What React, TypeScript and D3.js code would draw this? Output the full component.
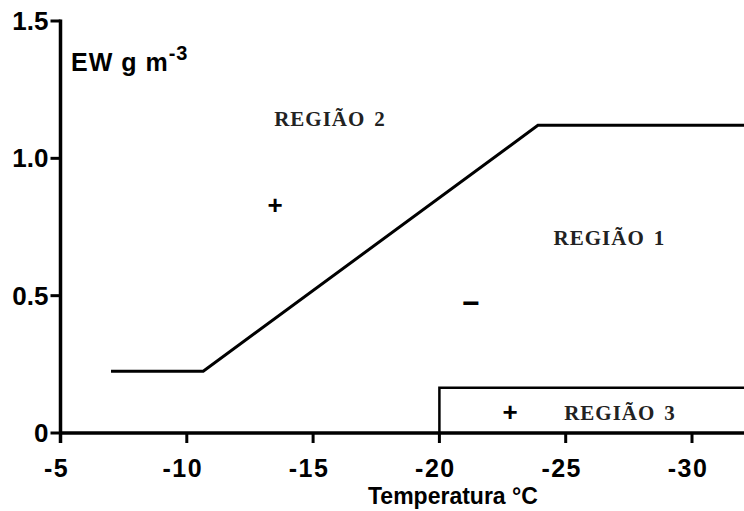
import * as d3 from 'd3';

const W = 744;
const H = 511;

// Boundary between região 1 and região 2 (temperature °C, EW g m-3)
const boundaryTemp = [-7, -10.65, -23.9, -32.1];
const boundaryEW = [0.225, 0.225, 1.12, 1.12];

// Região 3 box outline
const region3Temp = [-20, -20, -32.1];
const region3EW = [0, 0.165, 0.165];

const xTicks = [-5, -10, -15, -20, -25, -30];
const yTicks = [0, 0.5, 1.0, 1.5];
const yTickLabels = ['0', '0.5', '1.0', '1.5'];

const regionLabels = [
  { name: 'REGIÃO', num: '2', t: -15.67, v: 1.118 },
  { name: 'REGIÃO', num: '1', t: -26.73, v: 0.684 },
  { name: 'REGIÃO', num: '3', t: -27.15, v: 0.047 },
];
const signs = [
  { s: '+', t: -13.5, v: 0.83 },
  { s: '+', t: -22.8, v: 0.075 },
  { s: '−', t: -21.25, v: 0.47 },
];

const App = () => {
  const x = d3.scaleLinear().domain([-5, -32.1]).range([60.5, 60.5 + 27.1 * 25.26]);
  const y = d3.scaleLinear().domain([0, 1.5]).range([433, 21]);

  const pts = (ts: number[], vs: number[]) => ts.map((t, i) => [t, vs[i]] as [number, number]);
  const line = d3.line<[number, number]>().x(d => x(d[0])).y(d => y(d[1]));

  const sans = "'Liberation Sans', Arial, sans-serif";
  const serif = "'Liberation Serif', 'Times New Roman', serif";

  return (
    <svg width={W} height={H} style={{ position: 'absolute', left: 0, top: 0, background: '#fff' }}>
      {/* boundary line */}
      <path d={line(pts(boundaryTemp, boundaryEW)) || ''} fill="none" stroke="#000" strokeWidth={3} strokeLinejoin="miter" />
      <path d={line(pts(region3Temp, region3EW)) || ''} fill="none" stroke="#000" strokeWidth={2.5} />

      {/* x axis */}
      <line x1={x(-5)} x2={W} y1={y(0)} y2={y(0)} stroke="#000" strokeWidth={3.5} />
      {xTicks.map(t => (
        <g key={t}>
          <line x1={x(t)} x2={x(t)} y1={y(0)} y2={y(0) + 10} stroke="#000" strokeWidth={3} />
          <text x={x(t) - 4} y={477} textAnchor="middle" fontFamily={sans} fontWeight="bold" fontSize={25} letterSpacing={1.5}>
            {`-${Math.abs(t)}`}
          </text>
        </g>
      ))}
      <text x={368} y={504} fontFamily={sans} fontWeight="bold" fontSize={23}>Temperatura °C</text>

      {/* y axis */}
      <line x1={x(-5)} x2={x(-5)} y1={y(0) + 10} y2={y(1.5) - 1.5} stroke="#000" strokeWidth={3.5} />
      {yTicks.map((v, i) => (
        <g key={v}>
          <line x1={x(-5) - 10} x2={x(-5)} y1={y(v)} y2={y(v)} stroke="#000" strokeWidth={3} />
          <text x={x(-5) - 12} y={y(v) + 9} textAnchor="end" fontFamily={sans} fontWeight="bold" fontSize={26}>
            {yTickLabels[i]}
          </text>
        </g>
      ))}
      <text x={71} y={71} fontFamily={sans} fontWeight="bold" fontSize={25} letterSpacing={1}>
        EW g m<tspan dy={-11} fontSize={20}>-3</tspan>
      </text>

      {regionLabels.map(r => (
        <text key={r.num} x={x(r.t)} y={y(r.v)} textAnchor="middle" fontFamily={serif} fontWeight="bold" fontSize={21} letterSpacing={1} fill="#222">
          {r.name}<tspan dx={9}>{r.num}</tspan>
        </text>
      ))}
      {signs.map((s, i) => (
        <text key={i} x={x(s.t)} y={y(s.v) + 9} textAnchor="middle" fontFamily={sans} fontWeight="bold" fontSize={s.s === '+' ? 26 : 30}>
          {s.s}
        </text>
      ))}
    </svg>
  );
};

export default App;
